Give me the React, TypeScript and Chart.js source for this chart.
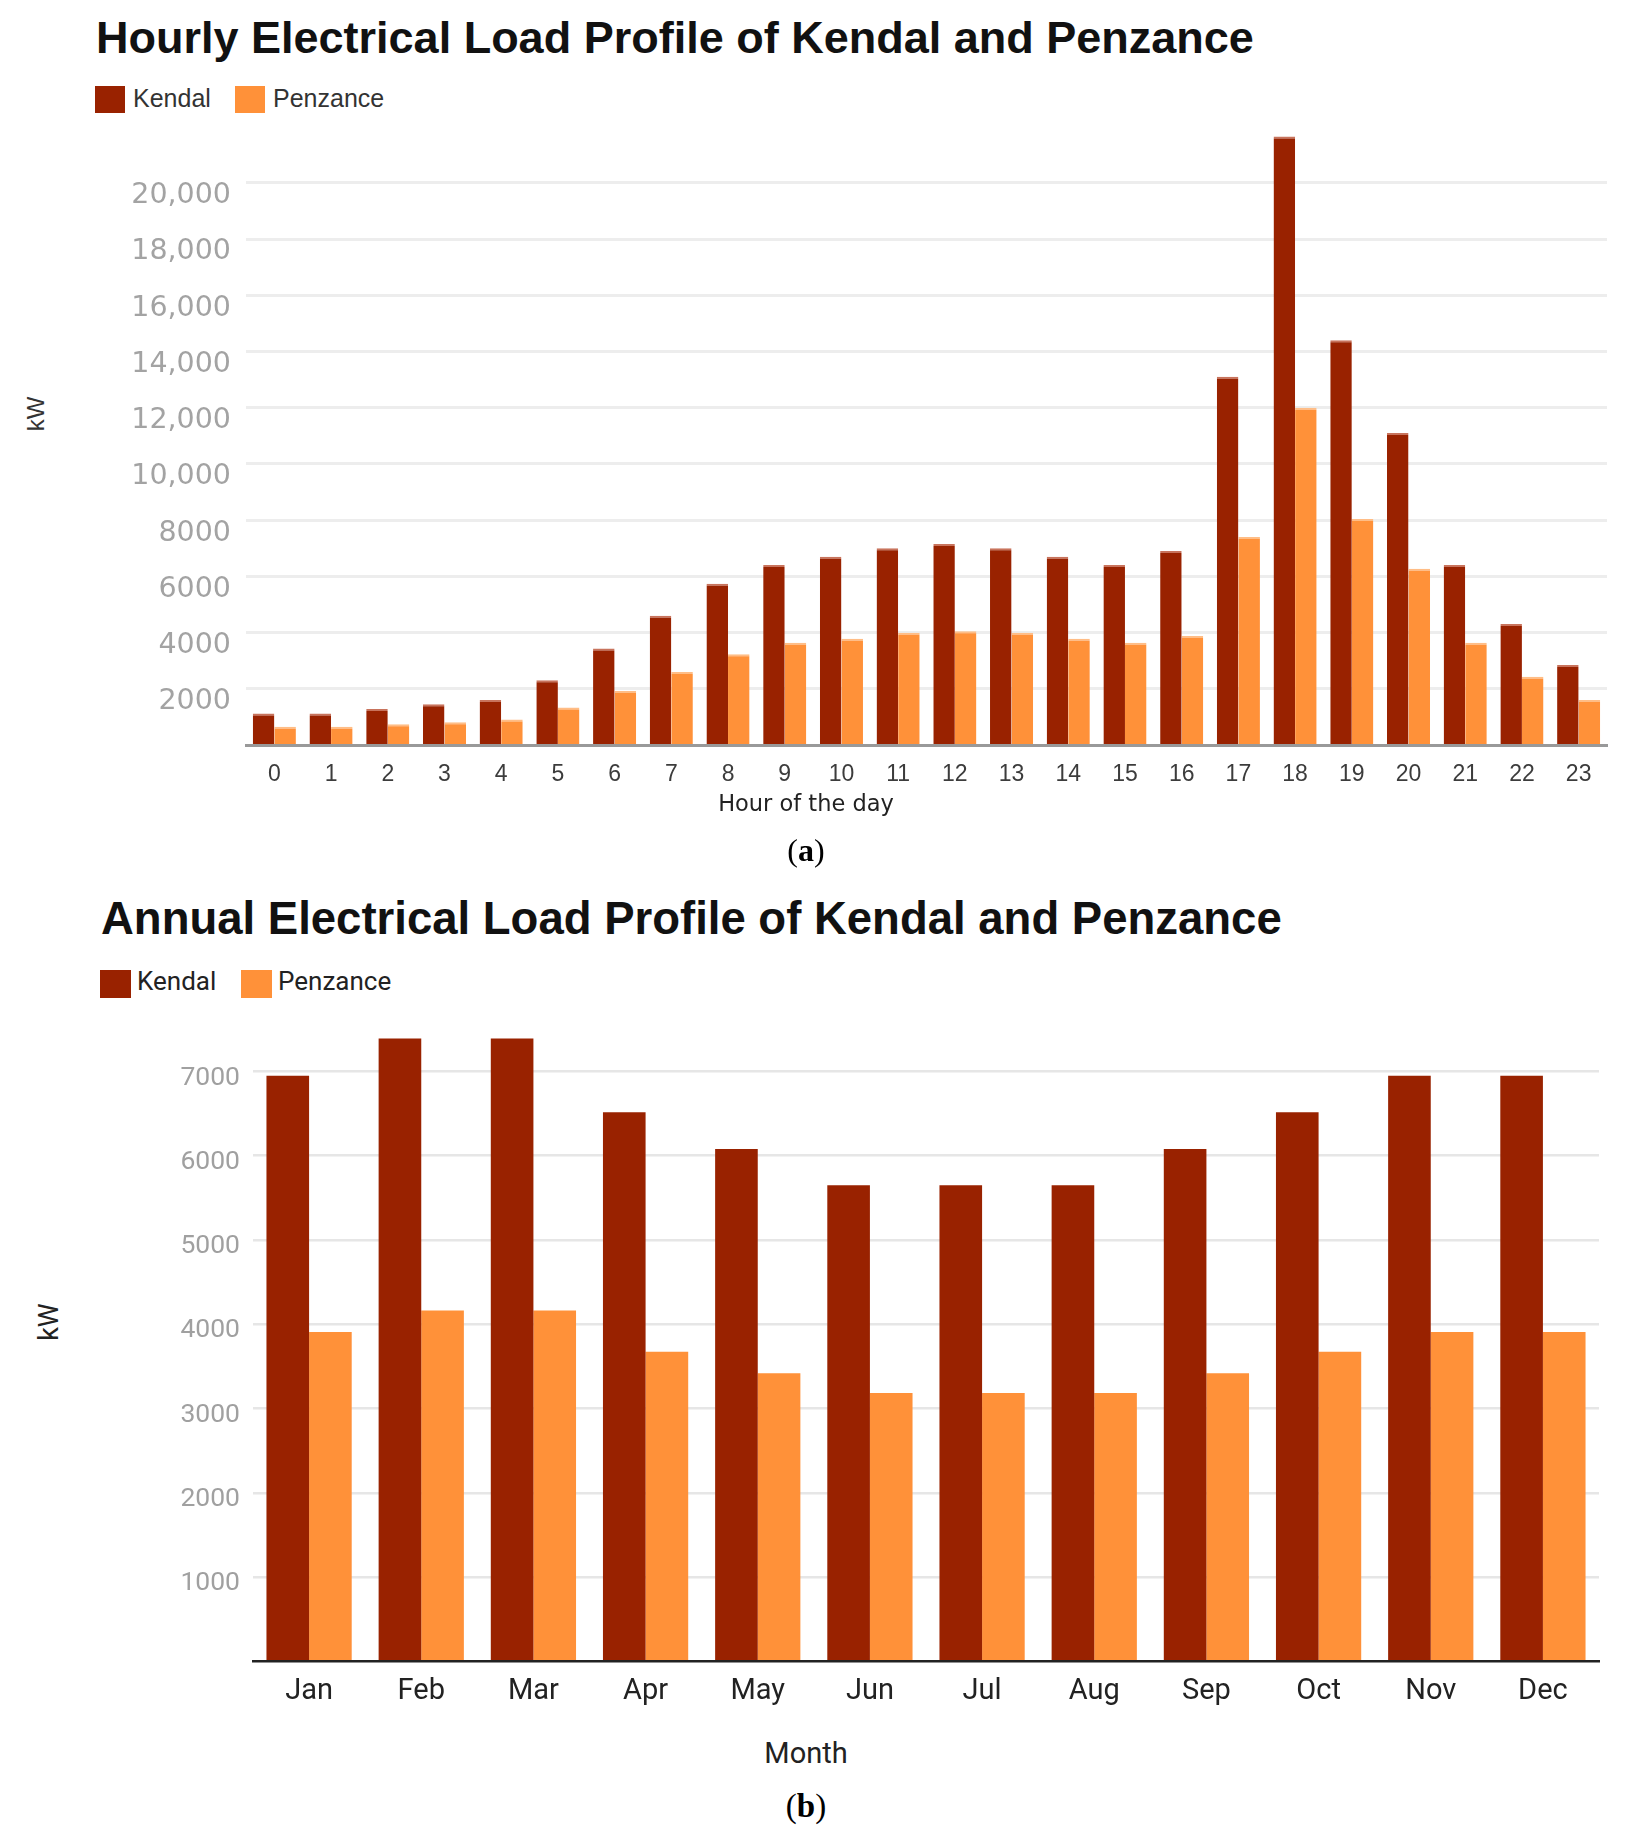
import React, { useEffect, useRef } from 'react';
import { Chart, registerables } from 'chart.js';

Chart.register(...registerables);

// hourly profile (kW)
const hours = ['0', '1', '2', '3', '4', '5', '6', '7', '8', '9', '10', '11', '12', '13', '14', '15', '16', '17', '18', '19', '20', '21', '22', '23'];
const kendalHourly = [1120, 1120, 1280, 1450, 1600, 2300, 3430, 4600, 5740, 6400, 6700, 7000, 7150, 7000, 6700, 6400, 6900, 13100, 21650, 14400, 11100, 6400, 4300, 2850];
const penzanceHourly = [650, 650, 740, 810, 910, 1330, 1920, 2600, 3230, 3640, 3780, 3990, 4050, 3990, 3780, 3640, 3880, 7400, 12000, 8040, 6270, 3640, 2430, 1600];
const hourlyTicks = [2000, 4000, 6000, 8000, 10000, 12000, 14000, 16000, 18000, 20000];

// annual profile (kW)
const months = ['Jan', 'Feb', 'Mar', 'Apr', 'May', 'Jun', 'Jul', 'Aug', 'Sep', 'Oct', 'Nov', 'Dec'];
const kendalMonthly = [6950, 7390, 7390, 6515, 6080, 5650, 5650, 5650, 6080, 6515, 6950, 6950];
const penzanceMonthly = [3910, 4165, 4165, 3675, 3420, 3185, 3185, 3185, 3420, 3675, 3910, 3910];
const monthlyTicks = [1000, 2000, 3000, 4000, 5000, 6000, 7000];

const KENDAL = '#992200';
const PENZANCE = '#ff9139';

interface PanelSpec {
    labels: string[];
    kendal: number[];
    penzance: number[];
    ticks: number[];
    top: number;
    height: number;
    padTop: number;
    padRight: number;
    yWidth: number;
    xHeight: number;
    yMax: number;
    yFormat: (v: number) => string;
    yFont: { family: string; size: number };
    yColor: string;
    yPad: number;
    yOffset: number;
    xFont: { family: string; size: number };
    xColor: string;
    xPad: number;
    gridColor: string;
    gridWidth: number;
    axisColor: string;
    axisWidth: number;
    topEdge: number;
}

const BarPanel: React.FC<{ spec: PanelSpec }> = ({ spec }) => {
    const canvasRef = useRef<HTMLCanvasElement>(null);

    useEffect(() => {
        if (!canvasRef.current) return;
        const chart = new Chart(canvasRef.current, {
            type: 'bar',
            data: {
                labels: spec.labels,
                datasets: [
                    {
                        label: 'Kendal',
                        data: spec.kendal,
                        backgroundColor: KENDAL,
                        borderColor: '#c8735c',
                        borderWidth: { top: spec.topEdge, left: 0, right: 0, bottom: 0 },
                        categoryPercentage: 0.76,
                        barPercentage: 1,
                    },
                    {
                        label: 'Penzance',
                        data: spec.penzance,
                        backgroundColor: PENZANCE,
                        borderColor: '#ffbd86',
                        borderWidth: { top: spec.topEdge, left: 0, right: 0, bottom: 0 },
                        categoryPercentage: 0.76,
                        barPercentage: 1,
                    },
                ],
            },
            options: {
                animation: false,
                responsive: true,
                maintainAspectRatio: false,
                layout: { padding: { top: spec.padTop, right: spec.padRight, left: 0, bottom: 0 } },
                plugins: {
                    legend: { display: false },
                    title: { display: false },
                    tooltip: { enabled: false },
                },
                scales: {
                    x: {
                        grid: { display: false },
                        border: { display: true, color: spec.axisColor, width: spec.axisWidth, z: 1 },
                        ticks: {
                            autoSkip: false,
                            maxRotation: 0,
                            padding: spec.xPad,
                            color: spec.xColor,
                            font: spec.xFont,
                        },
                        afterFit: (s: any) => { s.height = spec.xHeight; },
                    },
                    y: {
                        min: 0,
                        max: spec.yMax,
                        border: { display: false },
                        grid: {
                            drawTicks: false,
                            color: spec.gridColor,
                            lineWidth: spec.gridWidth,
                        },
                        ticks: {
                            padding: spec.yPad,
                            labelOffset: spec.yOffset,
                            color: spec.yColor,
                            font: spec.yFont,
                            callback: (v: any) => spec.yFormat(Number(v)),
                        },
                        afterBuildTicks: (s: any) => { s.ticks = spec.ticks.map((value) => ({ value })); },
                        afterFit: (s: any) => { s.width = spec.yWidth; },
                    },
                },
            },
        });
        return () => chart.destroy();
    }, [spec]);

    return (
        <div style={{ position: 'absolute', left: 0, top: spec.top, width: 1627, height: spec.height }}>
            <canvas ref={canvasRef}></canvas>
        </div>
    );
};

const hourlySpec: PanelSpec = {
    labels: hours,
    kendal: kendalHourly,
    penzance: penzanceHourly,
    ticks: hourlyTicks,
    top: 0,
    height: 800,
    padTop: 135,
    padRight: 20,
    yWidth: 246,
    xHeight: 55,
    yMax: 21700,
    yFormat: (v) => (v >= 10000 ? v.toLocaleString('en-US') : String(v)),
    yFont: { family: "'DejaVu Sans', sans-serif", size: 28.5 },
    yColor: '#a3a3a3',
    yPad: 15,
    yOffset: 13,
    xFont: { family: "'Liberation Sans', Arial, sans-serif", size: 23 },
    xColor: '#3c3c3c',
    xPad: 7.8,
    gridColor: '#ededed',
    gridWidth: 3,
    axisColor: '#999999',
    axisWidth: 3,
    topEdge: 2,
};

const monthlySpec: PanelSpec = {
    labels: months,
    kendal: kendalMonthly,
    penzance: penzanceMonthly,
    ticks: monthlyTicks,
    top: 1000,
    height: 720,
    padTop: 37.7,
    padRight: 28,
    yWidth: 253,
    xHeight: 58.5,
    yMax: 7400,
    yFormat: (v) => String(v),
    yFont: { family: 'Roboto, sans-serif', size: 26.5 },
    yColor: '#a0a0a0',
    yPad: 13,
    yOffset: 6.5,
    xFont: { family: 'Roboto, sans-serif', size: 29 },
    xColor: '#222222',
    xPad: 5.3,
    gridColor: '#e6e6e6',
    gridWidth: 2.5,
    axisColor: '#222222',
    axisWidth: 2.5,
    topEdge: 0,
};

const abs = (left: number, top: number, extra: React.CSSProperties = {}): React.CSSProperties => ({
    position: 'absolute',
    left,
    top,
    lineHeight: 1,
    whiteSpace: 'nowrap',
    ...extra,
});

const Swatch: React.FC<{ left: number; top: number; w: number; h: number; color: string }> = ({ left, top, w, h, color }) => (
    <div style={abs(left, top, { width: w, height: h, background: color })} />
);

export default function App() {
    useEffect(() => {
        document.body.style.margin = '0';
    }, []);

    const sans = "'Liberation Sans', Arial, sans-serif";
    const dejavu = "'DejaVu Sans', sans-serif";
    const roboto = 'Roboto, sans-serif';
    const serif = "'Liberation Serif', 'Times New Roman', serif";

    return (
        <div style={{ position: 'relative', width: 1627, height: 1843, overflow: 'hidden', background: '#fff' }}>
            {/* (a) hourly */}
            <div style={abs(96, 14.7, { fontFamily: sans, fontWeight: 700, fontSize: 45, color: '#111' })}>
                Hourly Electrical Load Profile of Kendal and Penzance
            </div>
            <Swatch left={95} top={86} w={30} h={27} color={KENDAL} />
            <div style={abs(133, 85.6, { fontFamily: sans, fontSize: 25, color: '#333' })}>Kendal</div>
            <Swatch left={235} top={86} w={30} h={27} color={PENZANCE} />
            <div style={abs(273, 85.6, { fontFamily: sans, fontSize: 25, color: '#333' })}>Penzance</div>
            <div style={abs(36, 414, { fontFamily: sans, fontSize: 24, color: '#333', transform: 'translate(-50%, -50%) rotate(-90deg)' })}>kW</div>
            <BarPanel spec={hourlySpec} />
            <div style={abs(806, 791.7, { fontFamily: dejavu, fontSize: 22.5, color: '#222', transform: 'translateX(-50%)' })}>Hour of the day</div>
            <div style={abs(806, 834, { fontFamily: serif, fontSize: 32, color: '#000', transform: 'translateX(-50%)' })}>
                (<b>a</b>)
            </div>

            {/* (b) annual */}
            <div style={abs(101, 895.5, { fontFamily: sans, fontWeight: 700, fontSize: 45.5, color: '#111' })}>
                Annual Electrical Load Profile of Kendal and Penzance
            </div>
            <Swatch left={100} top={969.5} w={31} h={28} color={KENDAL} />
            <div style={abs(137, 968, { fontFamily: roboto, fontSize: 26, color: '#222' })}>Kendal</div>
            <Swatch left={241} top={969.5} w={31} h={28} color={PENZANCE} />
            <div style={abs(278, 968, { fontFamily: roboto, fontSize: 26, color: '#222' })}>Penzance</div>
            <div style={abs(49, 1322, { fontFamily: roboto, fontSize: 27, color: '#222', transform: 'translate(-50%, -50%) rotate(-90deg)' })}>kW</div>
            <BarPanel spec={monthlySpec} />
            <div style={abs(806, 1738.5, { fontFamily: roboto, fontSize: 29, color: '#222', transform: 'translateX(-50%)' })}>Month</div>
            <div style={abs(806, 1790, { fontFamily: serif, fontSize: 33, color: '#000', transform: 'translateX(-50%)' })}>
                (<b>b</b>)
            </div>
        </div>
    );
}
